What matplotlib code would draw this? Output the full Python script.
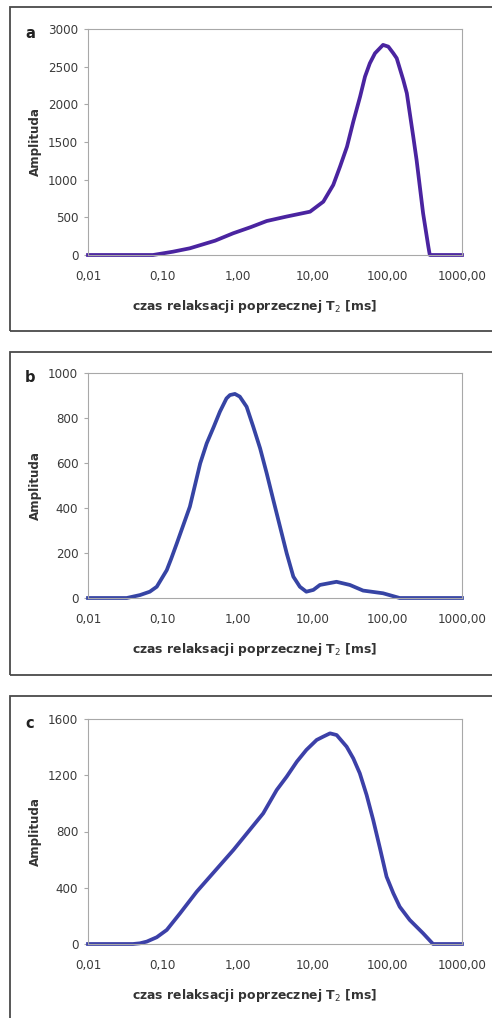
import numpy as np
import matplotlib.pyplot as plt
import matplotlib.transforms as mtransforms
from matplotlib.patches import Rectangle

# T2 relaxation time [ms] and amplitude
t2_a = [0.01, 0.03, 0.074, 0.137, 0.23, 0.5, 0.87, 1.5, 2.45, 4.5, 9.3, 14, 19,
        23.4, 29, 35.2, 43.4, 50.5, 58.6, 68.7, 88, 103.5, 120.7, 134, 164, 183,
        223, 247, 302, 355, 371, 500, 1000]
amp_a = [0, 0, 0, 44, 89, 190, 288, 370, 451, 510, 575, 708, 930,
         1173, 1438, 1770, 2102, 2368, 2545, 2678, 2789, 2766, 2678, 2612, 2324, 2147,
         1571, 1262, 553, 110, 0, 0, 0]

t2_b = [0.01, 0.033, 0.0495, 0.067, 0.083, 0.113, 0.13, 0.154, 0.188, 0.23, 0.316,
        0.386, 0.48, 0.58, 0.71, 0.79, 0.92, 1.07, 1.32, 1.62, 2.0, 2.45, 3.0, 3.69,
        4.53, 5.56, 6.8, 8.3, 10.3, 12.6, 21, 31.7, 47.6, 88, 147, 300, 1000]
amp_b = [0, 0, 13, 28, 50, 124, 176, 243, 324, 406, 598,
         687, 761, 828, 887, 902, 907, 895, 850, 761, 665, 554, 436, 317,
         199, 95, 50, 28, 36, 58, 72, 58, 33, 21, 0, 0, 0]

t2_c = [0.01, 0.04, 0.0495, 0.061, 0.083, 0.113, 0.17, 0.284, 0.88, 2.2, 3.33,
        4.53, 6.2, 8.3, 11.4, 14, 17.2, 21.1, 28.7, 35.2, 43, 53.1, 65, 80, 98,
        120.7, 147, 200, 302, 410, 600, 1000]
amp_c = [0, 0, 5, 17, 48, 100, 218, 372, 669, 929, 1095,
         1190, 1297, 1380, 1451, 1475, 1498, 1486, 1403, 1320, 1214, 1059, 882, 681, 479,
         361, 265, 171, 76, 0, 0, 0]

xticks = [0.01, 0.1, 1, 10, 100, 1000]
xtick_labels = ["0,01", "0,10", "1,00", "10,00", "100,00", "1000,00"]

panels = [
    ("a", t2_a, amp_a, [0, 500, 1000, 1500, 2000, 2500, 3000], "#4a24a0"),
    ("b", t2_b, amp_b, [0, 200, 400, 600, 800, 1000], "#3644a4"),
    ("c", t2_c, amp_c, [0, 400, 800, 1200, 1600], "#3c40a8"),
]

W, H = 492, 1018
plt.rcParams["font.family"] = ["DejaVu Sans"]
fig = plt.figure(figsize=(W / 100, H / 100), dpi=100)

# pixel boxes: (left, right, top, bottom) of plot area, frame top/bottom
plot_boxes = [(88, 462, 29, 255), (88, 462, 373, 598), (88, 462, 719, 944)]
frames = [(7, 331), (352, 675), (696, 1030)]


def px_rect(l, r, t, b):
    return [l / W, 1 - b / H, (r - l) / W, (b - t) / H]


shift = mtransforms.ScaledTranslation(3 / 100, 0, fig.dpi_scale_trans)

for (letter, x, y, yticks, color), (l, r, t, b), (ft, fb) in zip(panels, plot_boxes, frames):
    # dark outer frame around each panel
    fig.patches.append(Rectangle((10 / W, 1 - fb / H), (W + 20 - 10) / W, (fb - ft) / H,
                                 transform=fig.transFigure, fill=False,
                                 edgecolor="#4a4a4a", lw=1.3))
    ax = fig.add_axes(px_rect(l, r, t, b))
    ax.plot(x, y, color=color, lw=2.7, clip_on=False, solid_joinstyle="round")
    ax.set_xscale("log")
    ax.set_xlim(0.01, 1000)
    ax.set_ylim(0, yticks[-1])
    ax.set_xticks(xticks)
    ax.set_xticklabels(xtick_labels)
    ax.minorticks_off()
    ax.set_yticks(yticks)
    ax.set_yticklabels([str(v) for v in yticks])
    for lbl in ax.get_xticklabels():
        lbl.set_transform(lbl.get_transform() + shift)
    for s in ax.spines.values():
        s.set_color("#a8a8a8")
        s.set_linewidth(0.8)
    ax.tick_params(axis="x", length=0, pad=11, labelsize=8.6, labelcolor="#3a3a3a")
    ax.tick_params(axis="y", length=3, color="#a8a8a8", pad=4, labelsize=8.6,
                   labelcolor="#3a3a3a")
    ax.set_ylabel("Amplituda", fontsize=8.6, fontweight="bold", color="#333333")
    ax.yaxis.set_label_coords((35 - l) / (r - l), 0.5)
    ax.yaxis.label.set_va("center")
    ax.set_xlabel("czas relaksacji poprzecznej T$_2$ [ms]", fontsize=8.9,
                  fontweight="bold", color="#333333")
    ax.xaxis.set_label_coords((255 - l) / (r - l), -(52 / (b - t)))
    ax.xaxis.label.set_va("center")
    ax.text((30 - l) / (r - l), 1 - (4 / (b - t)), letter, transform=ax.transAxes,
            fontsize=10.5, fontweight="bold", ha="center", va="center", color="#222222")

fig.savefig("out.png", dpi=100)
